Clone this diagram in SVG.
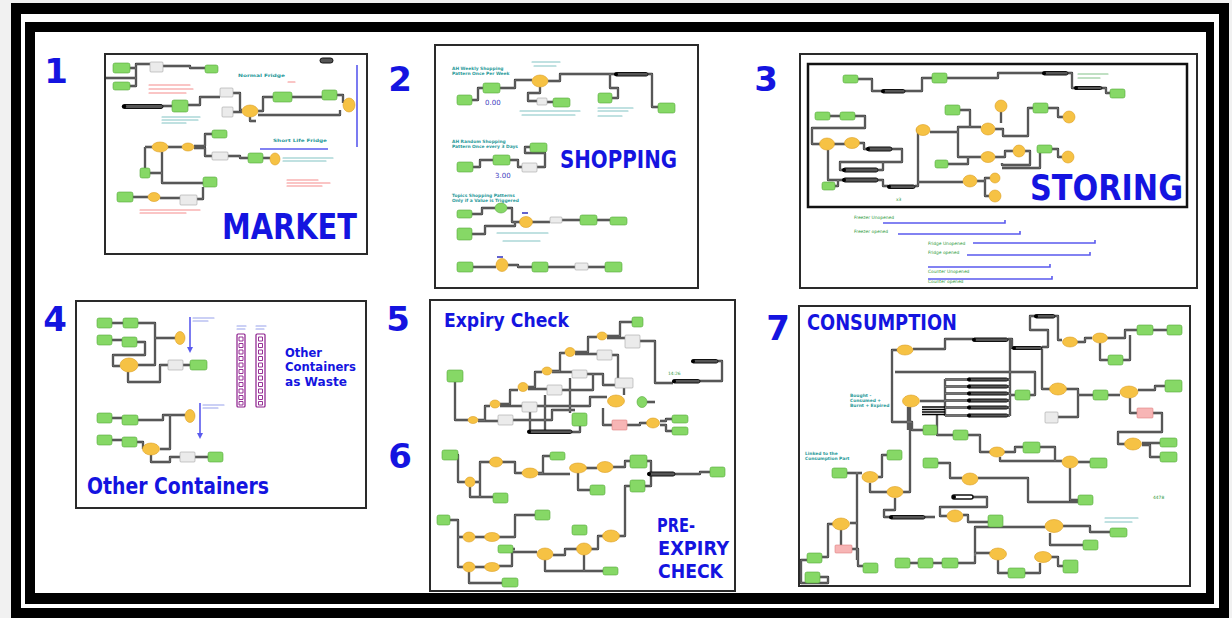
<svg xmlns="http://www.w3.org/2000/svg" width="1232" height="618" viewBox="0 0 1232 618">
<style>
.pn{fill:#fff;stroke:#2a2a2a;stroke-width:2}
.big{font-family:"DejaVu Sans",Verdana,sans-serif;font-weight:bold;fill:#1414e0}
.num{font-family:"DejaVu Sans",Verdana,sans-serif;font-weight:bold;fill:#1414e0;font-size:34px;text-anchor:middle}
.g{fill:#86d866;stroke:#56a83a;stroke-width:.6}
.y{fill:#f6c244;stroke:#dc9e22;stroke-width:.6}
.w{fill:#ebebeb;stroke:#a5a5a5;stroke-width:.6}
.p{fill:#f7b5b5;stroke:#df8080;stroke-width:.6}
.k{fill:#555;stroke:#111;stroke-width:1}
.wire{fill:none;stroke:#3b3b3b;stroke-width:2.3;stroke-linejoin:round}
.wire2{fill:none;stroke:#9a9a9a;stroke-width:.6;stroke-linejoin:round}
.bl{fill:none;stroke-width:1.1;stroke-linecap:round;opacity:.6}
.rd{stroke:#ee4040}
.tl{stroke:#2e9c9c}
.bu{stroke:#5566dd}
.gt{stroke:#2e9a3a}
.bln{fill:none;stroke:#5a5aee;stroke-width:1.6}
.sm{font-family:"DejaVu Sans",Verdana,sans-serif;font-size:4.4px}
.teal{fill:#2a9a9a;font-weight:bold}
.grn{fill:#2e9a3a}
.lad{fill:#fff;stroke:#8b1c8b;stroke-width:1.2}
</style>
<defs>
<marker id="ah" markerWidth="6" markerHeight="6" refX="3" refY="3" orient="auto" markerUnits="userSpaceOnUse"><path d="M0,0 L6,3 L0,6 z" fill="#5a5aee"/></marker>
</defs>

<!-- frame -->
<g id="frame">
<rect x="0" y="0" width="1232" height="618" fill="#f1f1f1"/>
<rect x="11" y="3" width="1218" height="615" fill="#000"/>
<rect x="21" y="14" width="1198" height="594" fill="#fff"/>
<rect x="25" y="22" width="1189" height="582" fill="#000"/>
<rect x="35" y="32" width="1171" height="561" fill="#fff"/>
</g>

<!-- numbers -->
<g id="numbers">
<text class="num" x="56" y="83">1</text>
<text class="num" x="400" y="91">2</text>
<text class="num" x="766" y="91">3</text>
<text class="num" x="55" y="331">4</text>
<text class="num" x="398" y="331">5</text>
<text class="num" x="400" y="468">6</text>
<text class="num" x="778" y="340">7</text>
</g>

<!-- PANEL 1 MARKET -->
<g id="panel-market">
<rect class="pn" x="105" y="54" width="262" height="200"/>
<g class="wire"><g id="w1">
<path d="M106,78 H136 M130,68 H136 V64 H150 M130,86 H136 V68 M163,66 H190 V68 H205"/>
<path d="M163,106 H172 M188,105 H200 V97 H220 M233,93 H240 V110 H242 M233,112 H242 M258,111 H263 V97 H273 M292,97 H322 M337,95 H343 V103 M258,115 H340 V110 M250,117 V121 H256"/>
<path d="M145,147 H152 M145,147 V172 H140 M168,147 H182 M194,146 H205 V134 H212 M194,148 H205 V156 H212 M228,156 H240 V158 H248 M263,158 H270 M162,152 V183 H203 M133,197 H148 M160,198 H180 M197,199 H203 V187 M150,173 H162"/>
</g></g>
<use href="#w1" class="wire2"/>
<rect class="g" x="113" y="63" width="17" height="10" rx="2"/>
<rect class="g" x="113" y="82" width="17" height="8" rx="2"/>
<rect class="w" x="150" y="62" width="13" height="10" rx="1"/>
<rect class="g" x="205" y="65" width="13" height="8" rx="2"/>
<rect class="k" x="320" y="58" width="13" height="5" rx="2.5"/>
<rect class="k" x="123" y="104.5" width="40" height="4" rx="2"/><circle cx="124" cy="106.5" r="2.2"/>
<rect class="g" x="172" y="100" width="16" height="12" rx="2"/>
<rect class="w" x="220" y="88" width="13" height="9" rx="1"/>
<rect class="w" x="222" y="107" width="11" height="10" rx="1"/>
<ellipse class="y" cx="250" cy="111" rx="8" ry="6"/>
<rect class="g" x="273" y="92" width="19" height="10" rx="2"/>
<rect class="g" x="322" y="90" width="15" height="10" rx="2"/>
<ellipse class="y" cx="349" cy="105" rx="6" ry="7"/>
<ellipse class="y" cx="160" cy="147" rx="8" ry="5"/>
<ellipse class="y" cx="188" cy="147" rx="6" ry="4"/>
<rect class="g" x="212" y="130" width="15" height="8" rx="2"/>
<rect class="w" x="212" y="152" width="16" height="8" rx="1"/>
<rect class="g" x="248" y="153" width="15" height="10" rx="2"/>
<ellipse class="y" cx="275" cy="159" rx="5" ry="6"/>
<rect class="g" x="140" y="168" width="10" height="10" rx="2"/>
<rect class="g" x="203" y="177" width="14" height="10" rx="2"/>
<rect class="g" x="117" y="192" width="16" height="10" rx="2"/>
<ellipse class="y" cx="154" cy="197" rx="6" ry="4.5"/>
<rect class="w" x="180" y="195" width="17" height="10" rx="1"/>
<path class="bln" d="M357,65 V147 M260,149 H328"/>
<path class="bl rd" d="M149,85 H190 M149,89 H193 M149,93 H186 M288,82 H295 M287,180 H318 M287,183 H330 M287,186 H322 M140,210 H200 M140,213 H186"/>
<path class="bl tl" d="M162,117 H200 M162,120 H198 M162,123 H186 M283,158 H333 M283,161 H326"/>
<text class="sm teal" x="238" y="77" font-size="6" textLength="47" lengthAdjust="spacingAndGlyphs">Normal Fridge</text>
<text class="sm teal" x="273" y="142" font-size="6" textLength="54" lengthAdjust="spacingAndGlyphs">Short Life Fridge</text>
<text class="big" x="222" y="239" font-size="36" textLength="135" lengthAdjust="spacingAndGlyphs">MARKET</text>
</g>

<!-- PANEL 2 SHOPPING -->
<g id="panel-shopping">
<rect class="pn" x="435" y="45" width="263" height="243"/>
<g class="wire"><g id="w2">
<path d="M472,100 H478 V88 H483 M500,88 H515 V80 H532 M548,81 H560 V74 H615 M648,74 H652 V107 H658 M610,74 V88 H618 V98 H612 M540,87 V93 H528 V101 H537 M547,102 H553"/>
<path d="M473,167 H480 V160 H493 M510,160 H518 V167 H522 M537,167 H545 V153 H525 V147 H530"/>
<path d="M472,214 H482 V208 H495 M507,208 H512 V222 H520 M472,234 H485 V226 H515 V222 M532,222 H550 M562,220 H580 M597,220 H610"/>
<path d="M473,267 H496 M508,265 H518 V267 H532 M548,267 H575 M588,267 H605"/>
</g></g>
<use href="#w2" class="wire2"/>
<ellipse class="y" cx="540" cy="81" rx="8" ry="6"/>
<rect class="g" x="483" y="83" width="17" height="10" rx="2"/>
<rect class="g" x="457" y="95" width="15" height="10" rx="2"/>
<rect class="w" x="537" y="98" width="10" height="7" rx="1"/>
<rect class="g" x="553" y="98" width="17" height="9" rx="2"/>
<rect class="k" x="615" y="72.5" width="33" height="3.5" rx="1.7"/><circle cx="616" cy="74.2" r="2"/>
<rect class="g" x="598" y="93" width="14" height="10" rx="2"/>
<rect class="g" x="658" y="103" width="17" height="10" rx="2"/>
<rect class="g" x="530" y="143" width="17" height="9" rx="2"/>
<rect class="g" x="493" y="155" width="17" height="10" rx="2"/>
<rect class="g" x="457" y="162" width="16" height="10" rx="2"/>
<rect class="w" x="522" y="163" width="15" height="9" rx="1"/>
<rect class="g" x="457" y="210" width="15" height="8" rx="2"/>
<ellipse class="g" cx="501" cy="208" rx="6" ry="5"/>
<ellipse class="y" cx="526" cy="222" rx="6.5" ry="5.5"/>
<rect class="w" x="550" y="217" width="12" height="6" rx="1"/>
<rect class="g" x="580" y="215" width="17" height="10" rx="2"/>
<rect class="g" x="610" y="217" width="17" height="8" rx="2"/>
<rect class="g" x="457" y="228" width="15" height="12" rx="2"/>
<rect class="g" x="457" y="262" width="16" height="10" rx="2"/>
<ellipse class="y" cx="502" cy="265" rx="6" ry="6.5"/>
<rect class="g" x="532" y="262" width="16" height="10" rx="2"/>
<rect class="w" x="575" y="263" width="13" height="7" rx="1"/>
<rect class="g" x="605" y="262" width="17" height="10" rx="2"/>
<path d="M522,213 H528 M497,257 H503" stroke="#3030c0" stroke-width="1.5"/>
<path class="bl tl" d="M532,62 H560 M534,66 H556 M520,111 H580 M522,115 H575 M598,108 H633 M598,111 H628 M598,116 H622 M497,233 H548 M503,241 H540"/>
<text class="sm teal" x="452" y="70">AH Weekly Shopping</text>
<text class="sm teal" x="452" y="75">Pattern Once Per Week</text>
<text class="sm teal" x="452" y="143">AH Random Shopping</text>
<text class="sm teal" x="452" y="148">Pattern Once every 3 Days</text>
<text class="sm teal" x="452" y="197">Topics Shopping Patterns</text>
<text class="sm teal" x="452" y="202">Only if a Value is Triggered</text>
<text font-family="DejaVu Sans, sans-serif" font-size="7" fill="#4040c0" x="485" y="105">0.00</text>
<text font-family="DejaVu Sans, sans-serif" font-size="7" fill="#4040c0" x="495" y="178">3.00</text>
<text class="big" x="560" y="168" font-size="25" textLength="117" lengthAdjust="spacingAndGlyphs">SHOPPING</text>
</g>

<!-- PANEL 3 STORING -->
<g id="panel-storing">
<rect class="pn" x="800" y="54" width="397" height="234"/>
<rect x="808" y="64" width="379" height="143" fill="none" stroke="#111" stroke-width="2.5"/>
<g class="wire"><g id="w3">
<path d="M858,79 H872 V91 H882 M905,91 H922 V78 H932 M947,78 H998 V73 H1043 M1068,73 H1072 V88 H1075 M1102,88 H1106 V93 H1110"/>
<path d="M830,116 H840 M855,116 H865 V128 H812 V144 H820 M834,144 H845 M859,143 H864 V149 H867 M892,149 H902 V162 H840 V170 H843 M828,150 V180 H843 M835,186 H838 V180 M878,180 H883 V186 H888 M878,170 H883 V162"/>
<path d="M915,186 H918 V130 H916 M930,132 H958 M958,132 V127 H981 M958,132 V157 H981 M960,110 H970 V127 M948,164 H968 V157 M918,182 H963"/>
<path d="M995,129 H1003 V136 H1028 V108 H1033 M1001,112 V123 M1048,108 H1058 V117 H1063 M995,157 H1005 V151 H1013 M1025,151 H1030 V165 H1002 V163 M1052,149 H1058 V157 H1062 M1040,153 V168 H1002 M977,181 H985 V178 H990 M985,181 V196 H989"/>
</g></g>
<use href="#w3" class="wire2"/>
<rect class="g" x="843" y="75" width="15" height="8" rx="2"/>
<rect class="k" x="882" y="89.5" width="23" height="3.5" rx="1.7"/><circle cx="883" cy="91.2" r="2"/>
<rect class="g" x="932" y="73" width="15" height="10" rx="2"/>
<rect class="k" x="1043" y="71.5" width="25" height="3.5" rx="1.7"/><circle cx="1044" cy="73.2" r="2"/>
<rect class="k" x="1075" y="86.5" width="27" height="3" rx="1.5"/><circle cx="1076" cy="88" r="2"/>
<rect class="g" x="1110" y="89" width="15" height="9" rx="2"/>
<rect class="g" x="815" y="112" width="15" height="8" rx="2"/>
<rect class="g" x="840" y="112" width="15" height="8" rx="2"/>
<ellipse class="y" cx="827" cy="144" rx="7.5" ry="6"/>
<ellipse class="y" cx="852" cy="143" rx="7.5" ry="5.5"/>
<rect class="k" x="867" y="147" width="25" height="4" rx="2"/><circle cx="868" cy="149" r="2"/>
<rect class="k" x="843" y="168" width="35" height="4" rx="2"/><circle cx="844" cy="170" r="2"/>
<rect class="k" x="843" y="178" width="35" height="4" rx="2"/><circle cx="844" cy="180" r="2"/>
<rect class="g" x="822" y="182" width="13" height="8" rx="2"/>
<rect class="k" x="888" y="185" width="27" height="3.5" rx="1.7"/><circle cx="889" cy="186.7" r="2"/>
<text class="sm grn" x="896" y="201" font-size="5">x3</text>
<ellipse class="y" cx="923" cy="130" rx="7" ry="5.5"/>
<rect class="g" x="945" y="105" width="15" height="10" rx="2"/>
<rect class="g" x="935" y="160" width="13" height="8" rx="2"/>
<ellipse class="y" cx="988" cy="129" rx="7" ry="6"/>
<circle class="y" cx="1001" cy="106" r="6"/>
<ellipse class="y" cx="988" cy="157" rx="7" ry="5.5"/>
<circle class="y" cx="1019" cy="151" r="6"/>
<rect class="g" x="1033" y="103" width="15" height="10" rx="2"/>
<circle class="y" cx="1069" cy="117" r="6"/>
<rect class="g" x="1037" y="145" width="15" height="8" rx="2"/>
<circle class="y" cx="1068" cy="157" r="6"/>
<ellipse class="y" cx="970" cy="181" rx="7" ry="6"/>
<circle class="y" cx="995" cy="178" r="5"/>
<circle class="y" cx="995" cy="196" r="6"/>
<path class="bl gt" d="M1078,74 H1108 M1078,78 H1100"/>
<text class="big" x="1030" y="200" font-size="35" textLength="153" lengthAdjust="spacingAndGlyphs">STORING</text>
<text class="sm grn" x="854" y="219">Freezer Unopened</text>
<text class="sm grn" x="854" y="233">Freezer opened</text>
<text class="sm grn" x="928" y="245">Fridge Unopened</text>
<text class="sm grn" x="928" y="254">Fridge opened</text>
<text class="sm grn" x="928" y="273">Counter Unopened</text>
<text class="sm grn" x="928" y="283">Counter opened</text>
<path class="bln" d="M883,223 H1005 V220 M898,234 H1020 V231 M973,243 H1095 V240 M967,255 H1090 V252 M928,267 H1050 V264 M928,279 H1052 V276"/>
</g>

<!-- PANEL 4 OTHER CONTAINERS -->
<g id="panel-other-containers">
<rect class="pn" x="76" y="301" width="290" height="207"/>
<g class="wire"><g id="w4">
<path d="M112,323 H123 M138,323 H155 V338 H175 M112,340 H122 M137,342 H145 V355 H113 V366 H120 M138,365 H155 V338 M128,372 V382 H160 V365 H168 M183,365 H190"/>
<path d="M112,418 H122 M138,420 H163 V415 H185 M112,440 H122 M137,442 H143 V449 M160,449 H170 V415 M151,455 V462 H170 V457 H180 M195,457 H208"/>
</g></g>
<use href="#w4" class="wire2"/>
<rect class="g" x="97" y="318" width="15" height="10" rx="2"/>
<rect class="g" x="123" y="318" width="15" height="10" rx="2"/>
<rect class="g" x="97" y="335" width="15" height="10" rx="2"/>
<rect class="g" x="122" y="337" width="15" height="10" rx="2"/>
<ellipse class="y" cx="180" cy="338" rx="5" ry="6.5"/>
<ellipse class="y" cx="129" cy="365" rx="9" ry="7"/>
<rect class="w" x="168" y="360" width="15" height="10" rx="1"/>
<rect class="g" x="190" y="360" width="17" height="10" rx="2"/>
<rect class="g" x="97" y="413" width="15" height="10" rx="2"/>
<rect class="g" x="122" y="415" width="16" height="10" rx="2"/>
<ellipse class="y" cx="190" cy="416" rx="5" ry="6.5"/>
<rect class="g" x="97" y="435" width="15" height="10" rx="2"/>
<rect class="g" x="122" y="437" width="15" height="10" rx="2"/>
<ellipse class="y" cx="151" cy="449" rx="8.5" ry="6"/>
<rect class="w" x="180" y="452" width="15" height="10" rx="1"/>
<rect class="g" x="208" y="452" width="15" height="10" rx="2"/>
<path class="bln" d="M190,317 V350" marker-end="url(#ah)"/>
<path class="bln" d="M200,403 V436" marker-end="url(#ah)"/>
<path class="bl bu" d="M193,318 H214 M193,321 H208 M203,405 H224 M203,408 H218 M237,326 H246 M237,329 H245 M256,326 H266 M256,329 H264"/>
<g id="ladders">
<rect class="lad" x="237" y="334" width="8" height="73" rx="1"/>
<rect class="lad" x="256" y="334" width="9" height="73" rx="1"/>
<g fill="none" stroke="#8b1c8b" stroke-width=".9">
<path d="M239,337 h4 v4 h-4z M239,343.5 h4 v4 h-4z M239,350 h4 v4 h-4z M239,356.5 h4 v4 h-4z M239,363 h4 v4 h-4z M239,369.5 h4 v4 h-4z M239,376 h4 v4 h-4z M239,382.5 h4 v4 h-4z M239,389 h4 v4 h-4z M239,395.5 h4 v4 h-4z M239,401.5 h4 v3.5 h-4z"/>
<path d="M258.5,337 h4 v4 h-4z M258.5,343.5 h4 v4 h-4z M258.5,350 h4 v4 h-4z M258.5,356.5 h4 v4 h-4z M258.5,363 h4 v4 h-4z M258.5,369.5 h4 v4 h-4z M258.5,376 h4 v4 h-4z M258.5,382.5 h4 v4 h-4z M258.5,389 h4 v4 h-4z M258.5,395.5 h4 v4 h-4z M258.5,401.5 h4 v3.5 h-4z"/>
</g>
</g>
<text class="big" x="285" y="356.5" font-size="12.4" textLength="37" lengthAdjust="spacingAndGlyphs">Other</text>
<text class="big" x="285" y="371" font-size="12.4" textLength="71" lengthAdjust="spacingAndGlyphs">Containers</text>
<text class="big" x="285" y="385.5" font-size="12.4" textLength="62" lengthAdjust="spacingAndGlyphs">as Waste</text>
<text class="big" x="87" y="494" font-size="23.5" textLength="182" lengthAdjust="spacingAndGlyphs">Other Containers</text>
</g>

<!-- PANEL 5/6 EXPIRY -->
<g id="panel-expiry">
<rect class="pn" x="430" y="300" width="305" height="291"/>
<g class="wire"><g id="w5">
<path d="M478,420 H485 V406 H490 M500,404 H510 V390 H518 M528,387 H535 V372 H542 M552,371 H560 V353 H565 M575,352 H588 V337 H597 M607,336 H620 V322 H632"/>
<path d="M478,421 H498 M500,406 H522 M528,389 H547 M552,372 H572 M575,354 H597 M607,338 H625 M455,382 V420 H468"/>
<path d="M513,420 H552 V410 H575 M537,406 H590 V397 H607 M562,390 H593 V374 M587,374 H603 V385 H615 M612,355 H618 V378 M640,341 H655 V383 H673 M624,395 V388 M612,425 H603 V408 M627,425 H640 V423 H647 M660,421 H666 V419 H672 M660,425 H666 V431 H672 M647,402 H655 M718,361 H722 V381 H700 M572,432 H580 V426 M530,412 V432 M545,395 V432 M570,378 V413"/>
<path d="M450,455 H458 V482 H465 M475,482 H480 V462 H490 M470,487 V497 H493 M480,482 V497 M502,462 H515 V473 H522 M538,473 H543 V456 H550 M538,474 H570 M586,468 H597 M613,467 H625 V461 H630 M647,461 H651 V474 M675,474 H700 V472 H710 M578,473 V490 H590 M645,486 H651 V476"/>
<path d="M450,520 H458 V537 H463 M475,537 H485 M499,537 H515 V515 H535 M458,537 V567 H463 M475,567 H485 M499,566 H512 V552 H537 M553,555 H565 V549 H577 M591,549 H598 V536 H603 M619,536 H625 V486 H630 M469,572 V583 H502 M545,560 V571 H603 M584,555 V571 M505,549 H515 M578,530 H587"/>
</g></g>
<use href="#w5" class="wire2"/>
<rect class="g" x="632" y="317" width="11" height="10" rx="2"/>
<ellipse class="y" cx="602" cy="336" rx="5" ry="4"/>
<ellipse class="y" cx="570" cy="352" rx="5" ry="4.5"/>
<ellipse class="y" cx="547" cy="371" rx="5" ry="4"/>
<ellipse class="y" cx="523" cy="387" rx="5" ry="4.5"/>
<ellipse class="y" cx="495" cy="404" rx="5" ry="4"/>
<ellipse class="y" cx="473" cy="420" rx="5" ry="3.5"/>
<rect class="w" x="625" y="335" width="15" height="13" rx="1"/>
<rect class="w" x="597" y="350" width="15" height="10" rx="1"/>
<rect class="w" x="572" y="370" width="15" height="8" rx="1"/>
<rect class="w" x="547" y="385" width="15" height="10" rx="1"/>
<rect class="w" x="522" y="402" width="15" height="10" rx="1"/>
<rect class="w" x="498" y="415" width="15" height="10" rx="1"/>
<rect class="g" x="447" y="370" width="16" height="12" rx="2"/>
<rect class="k" x="692" y="359.5" width="26" height="3.5" rx="1.7"/><circle cx="693" cy="361.2" r="2"/>
<text class="sm grn" x="668" y="375">14:26</text>
<rect class="k" x="673" y="379.5" width="27" height="3.5" rx="1.7"/><circle cx="674" cy="381.2" r="2"/>
<rect class="w" x="615" y="378" width="18" height="10" rx="1"/>
<ellipse class="y" cx="616" cy="401" rx="8.5" ry="6"/>
<ellipse class="g" cx="642" cy="402" rx="5" ry="5.5"/>
<rect class="p" x="612" y="420" width="15" height="10" rx="1"/>
<ellipse class="y" cx="653" cy="423" rx="6.5" ry="5"/>
<rect class="g" x="672" y="415" width="16" height="8" rx="2"/>
<rect class="g" x="672" y="427" width="16" height="8" rx="2"/>
<rect class="g" x="572" y="413" width="15" height="13" rx="2"/>
<rect class="k" x="528" y="430" width="44" height="3.5" rx="1.7"/><circle cx="529" cy="431.7" r="2"/>
<rect class="g" x="442" y="450" width="16" height="10" rx="2"/>
<ellipse class="y" cx="470" cy="482" rx="5" ry="5"/>
<ellipse class="y" cx="496" cy="462" rx="6.5" ry="5"/>
<ellipse class="y" cx="530" cy="473" rx="8" ry="5"/>
<rect class="g" x="550" y="452" width="15" height="8" rx="2"/>
<ellipse class="y" cx="578" cy="468" rx="8.5" ry="5"/>
<ellipse class="y" cx="605" cy="467" rx="8" ry="5.5"/>
<rect class="g" x="630" y="455" width="17" height="13" rx="2"/>
<rect class="k" x="648" y="472" width="27" height="4" rx="2"/><circle cx="649" cy="474" r="2"/>
<rect class="g" x="710" y="467" width="15" height="10" rx="2"/>
<rect class="g" x="590" y="485" width="15" height="10" rx="2"/>
<rect class="g" x="493" y="493" width="15" height="10" rx="2"/>
<rect class="g" x="630" y="480" width="15" height="12" rx="2"/>
<rect class="g" x="437" y="515" width="13" height="10" rx="2"/>
<rect class="g" x="535" y="510" width="15" height="10" rx="2"/>
<ellipse class="y" cx="469" cy="537" rx="6" ry="5"/>
<ellipse class="y" cx="492" cy="537" rx="7.5" ry="4.5"/>
<rect class="g" x="498" y="545" width="15" height="8" rx="2"/>
<ellipse class="y" cx="469" cy="567" rx="6" ry="5"/>
<ellipse class="y" cx="492" cy="567" rx="7.5" ry="4.5"/>
<rect class="g" x="502" y="578" width="16" height="9" rx="2"/>
<ellipse class="y" cx="545" cy="554" rx="8" ry="6"/>
<rect class="g" x="572" y="525" width="15" height="10" rx="2"/>
<ellipse class="y" cx="584" cy="549" rx="7.5" ry="6"/>
<ellipse class="y" cx="611" cy="536" rx="8.5" ry="6"/>
<rect class="g" x="603" y="567" width="15" height="8" rx="2"/>
<text class="big" x="444" y="327" font-size="19" textLength="125" lengthAdjust="spacingAndGlyphs">Expiry Check</text>
<text class="big" x="657" y="532" font-size="19" textLength="38" lengthAdjust="spacingAndGlyphs">PRE-</text>
<text class="big" x="658" y="555" font-size="19" textLength="71" lengthAdjust="spacingAndGlyphs">EXPIRY</text>
<text class="big" x="658" y="578" font-size="19" textLength="65" lengthAdjust="spacingAndGlyphs">CHECK</text>
</g>

<!-- PANEL 7 CONSUMPTION -->
<g id="panel-consumption">
<rect class="pn" x="799" y="306" width="391" height="280"/>
<g class="wire"><g id="w7">
<path d="M1055,316 H1058 V340 H1062 M1035,316 H1030 V330 H1048 V347 H1042 M1077,342 H1085 V338 H1092 M1107,338 H1125 V330 H1137 M1153,330 H1167 M1100,343 V360 H1108 M1123,360 H1130 V335"/>
<path d="M913,349 H945 V339 H973 M1008,339 H1012 V348 H1013 M897,350 H892 V422 H912 V430 H923 M895,372 H1035 V395 H1030 M945,379 V416 M945,379.5 H968 M945,386.5 H968 M945,393.5 H968 M945,400.5 H968 M945,407.5 H968 M945,415.5 H968 M1010,340 V416 M1008,379.5 H1010 M1008,386.5 H1010 M1008,393.5 H1010 M1008,400.5 H1010 M1008,407.5 H1010 M1008,415.5 H1010 M1010,395 H1015 M920,401 H945"/>
<path d="M1042,349 V389 H1050 M1066,389 H1078 V417 H1058 M1078,395 H1093 M1108,395 H1120 M1138,390 H1155 V386 H1165 M1130,398 V413 H1137 M1153,413 H1162 V432 H1118 V444 H1125 M1142,443 H1160 M1142,445 H1150 V457 H1160"/>
<path d="M908,407 V430 M937,415 V435 H953 M968,435 H980 V452 H990 M1004,452 H1015 V447 H1023 M1000,457 V461 H1062 M1040,447 H1055 V461 M1078,462 H1090 M1070,468 V500 H1078 M938,463 H950 V478 H962 M978,478 H1028 V502 H1078"/>
<path d="M847,473 H862 M878,477 H882 V455 H887 M870,483 V492 H887 M903,492 H910 V407 M857,472 V560 M895,498 V510 H884 V517 H890 M925,517 H935 M947,516 H940 V507 H987 V497 H973 M963,515 H968 V522 H988"/>
<path d="M850,523 H857 M841,530 V545 M833,524 H828 V557 H822 M852,549 H858 V566 H863 M807,560 H801 V583 H828 V577 H820 M910,563 H918 M933,563 H942 M958,563 H975 V553 H990 M998,560 V573 H1008 M975,556 V527 H1045 M1063,526 H1090 V532 H1110 M1050,533 V545 H1083 M1025,573 H1040 V563 M1050,557 H1058 V566 H1063"/>
</g></g>
<use href="#w7" class="wire2"/>
<path d="M922,407 H945 M922,409.5 H945 M922,412 H945 M922,414.5 H945" stroke="#000" stroke-width="1.6"/>
<rect class="k" x="1035" y="314.5" width="20" height="3.5" rx="1.7"/><circle cx="1036" cy="316.2" r="2"/>
<ellipse class="y" cx="1070" cy="342" rx="7.5" ry="5"/>
<ellipse class="y" cx="1100" cy="338" rx="7.5" ry="5"/>
<rect class="g" x="1137" y="325" width="16" height="10" rx="2"/>
<rect class="g" x="1167" y="325" width="15" height="10" rx="2"/>
<rect class="g" x="1108" y="355" width="15" height="10" rx="2"/>
<rect class="k" x="973" y="338" width="35" height="3.5" rx="1.7"/><circle cx="974" cy="339.7" r="2"/>
<rect class="k" x="1013" y="346.5" width="29" height="3" rx="1.5"/><circle cx="1014" cy="348" r="2"/>
<ellipse class="y" cx="905" cy="350" rx="8" ry="5"/>
<ellipse class="y" cx="911" cy="401" rx="8.5" ry="6"/>
<g>
<rect class="k" x="968" y="378" width="40" height="3" rx="1.5"/><circle cx="969" cy="379.5" r="2"/>
<rect class="k" x="968" y="385" width="40" height="3" rx="1.5"/><circle cx="969" cy="386.5" r="2"/>
<rect class="k" x="968" y="392" width="40" height="3" rx="1.5"/><circle cx="969" cy="393.5" r="2"/>
<rect class="k" x="968" y="399" width="40" height="3" rx="1.5"/><circle cx="969" cy="400.5" r="2"/>
<rect class="k" x="968" y="406" width="40" height="3" rx="1.5"/><circle cx="969" cy="407.5" r="2"/>
<rect class="k" x="968" y="414" width="40" height="3" rx="1.5"/><circle cx="969" cy="415.5" r="2"/>
</g>
<rect class="g" x="1015" y="390" width="15" height="10" rx="2"/>
<ellipse class="y" cx="1058" cy="389" rx="8.5" ry="6"/>
<rect class="w" x="1045" y="412" width="13" height="11" rx="1"/>
<rect class="g" x="1093" y="390" width="15" height="10" rx="2"/>
<ellipse class="y" cx="1129" cy="392" rx="9" ry="6"/>
<rect class="g" x="1165" y="380" width="17" height="12" rx="2"/>
<rect class="p" x="1137" y="408" width="16" height="10" rx="1"/>
<ellipse class="y" cx="1133" cy="444" rx="8.5" ry="6"/>
<rect class="g" x="1160" y="438" width="17" height="9" rx="2"/>
<rect class="g" x="1160" y="452" width="17" height="10" rx="2"/>
<rect class="g" x="923" y="425" width="14" height="10" rx="2"/>
<rect class="g" x="953" y="430" width="15" height="10" rx="2"/>
<ellipse class="y" cx="997" cy="452" rx="7.5" ry="5"/>
<rect class="g" x="1023" y="442" width="17" height="11" rx="2"/>
<ellipse class="y" cx="1070" cy="462" rx="8" ry="6"/>
<rect class="g" x="1090" y="458" width="17" height="10" rx="2"/>
<rect class="g" x="923" y="458" width="15" height="10" rx="2"/>
<ellipse class="y" cx="970" cy="479" rx="8" ry="6"/>
<rect class="g" x="1078" y="495" width="15" height="10" rx="2"/>
<rect class="g" x="887" y="450" width="15" height="10" rx="2"/>
<rect class="g" x="832" y="468" width="15" height="10" rx="2"/>
<ellipse class="y" cx="870" cy="477" rx="8" ry="5.5"/>
<ellipse class="y" cx="895" cy="492" rx="8" ry="5.5"/>
<rect class="k" x="890" y="515.5" width="35" height="3.5" rx="1.7"/><circle cx="891" cy="517.2" r="2"/>
<rect x="952" y="495" width="21" height="4" rx="2" fill="#fff" stroke="#111" stroke-width="1.5"/><circle cx="954" cy="497" r="2"/>
<ellipse class="y" cx="955" cy="516" rx="8" ry="6"/>
<rect class="g" x="988" y="515" width="15" height="12" rx="2"/>
<ellipse class="y" cx="841" cy="524" rx="8.5" ry="6"/>
<rect class="p" x="835" y="545" width="17" height="8" rx="1"/>
<rect class="g" x="807" y="553" width="15" height="10" rx="2"/>
<rect class="g" x="863" y="563" width="15" height="10" rx="2"/>
<rect class="g" x="805" y="572" width="15" height="11" rx="2"/>
<rect class="g" x="895" y="558" width="15" height="10" rx="2"/>
<rect class="g" x="918" y="558" width="15" height="10" rx="2"/>
<rect class="g" x="942" y="558" width="16" height="10" rx="2"/>
<ellipse class="y" cx="998" cy="554" rx="8.5" ry="6"/>
<ellipse class="y" cx="1054" cy="526" rx="9" ry="6.5"/>
<rect class="g" x="1110" y="528" width="17" height="9" rx="2"/>
<rect class="g" x="1083" y="540" width="15" height="10" rx="2"/>
<ellipse class="y" cx="1043" cy="557" rx="8.5" ry="5.5"/>
<rect class="g" x="1063" y="560" width="15" height="13" rx="2"/>
<rect class="g" x="1008" y="568" width="17" height="10" rx="2"/>
<path class="bl tl" d="M1105,518 H1138 M1105,522 H1132"/>
<text class="sm grn" x="1153" y="499" font-size="5">4478</text>
<text class="sm teal" x="850" y="397">Bought -</text>
<text class="sm teal" x="850" y="402">Consumed +</text>
<text class="sm teal" x="850" y="407">Burnt + Expired</text>
<text class="sm teal" x="805" y="455">Linked to the</text>
<text class="sm teal" x="805" y="460">Consumption Part</text>
<text class="big" x="807" y="330" font-size="22" textLength="150" lengthAdjust="spacingAndGlyphs">CONSUMPTION</text>
</g>
</svg>
